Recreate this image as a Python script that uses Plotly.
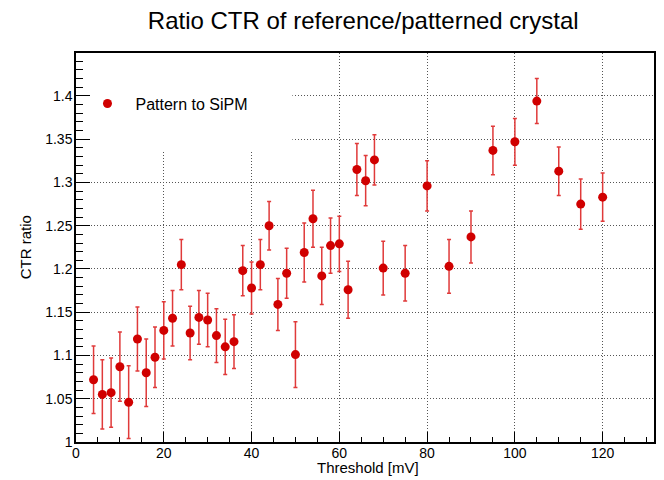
import plotly.graph_objects as go

# Data
threshold_mV = [4, 6, 8, 10, 12, 14, 16, 18, 20, 22, 24, 26, 28, 30, 32, 34, 36, 38, 40, 42,
                44, 46, 48, 50, 52, 54, 56, 58, 60, 62, 64, 66, 68, 70, 75, 80, 85, 90, 95,
                100, 105, 110, 115, 120]
ctr_ratio = [1.072, 1.055, 1.057, 1.087, 1.046, 1.119, 1.080, 1.098, 1.129, 1.143,
             1.205, 1.126, 1.144, 1.141, 1.123, 1.110, 1.116, 1.198, 1.178, 1.205,
             1.250, 1.159, 1.195, 1.101, 1.219, 1.258, 1.192, 1.227, 1.229, 1.176,
             1.315, 1.302, 1.326, 1.201, 1.195, 1.296, 1.203, 1.237, 1.337,
             1.347, 1.394, 1.313, 1.275, 1.283]
ctr_err = [0.039, 0.040, 0.040, 0.040, 0.042, 0.037, 0.039, 0.035, 0.033, 0.032,
           0.029, 0.031, 0.031, 0.031, 0.031, 0.032, 0.031, 0.029, 0.030, 0.029,
           0.028, 0.030, 0.029, 0.038, 0.034, 0.033, 0.033, 0.032, 0.032, 0.033,
           0.030, 0.029, 0.029, 0.031, 0.032, 0.029, 0.031, 0.030, 0.028,
           0.027, 0.026, 0.028, 0.029, 0.028]

series_name = "Pattern to SiPM"
title_text = "Ratio CTR of reference/patterned crystal"
x_title = "Threshold [mV]"
y_title = "CTR ratio"

FONT = "Liberation Sans, Arial, sans-serif"

# The page body has a default 8px margin, so the figure is offset by 8px.
FIG_W, FIG_H = 656, 472

fig = go.Figure()
fig.add_trace(go.Scatter(
    x=threshold_mV, y=ctr_ratio, mode="markers", name=series_name,
    marker=dict(color="#d00000", size=9, symbol="circle"),
    error_y=dict(type="data", array=ctr_err, visible=True,
                 color="#e03a3a", thickness=1.5, width=2),
))

# white legend area hiding the grid (as in the reference)
fig.add_shape(type="rect", xref="x", yref="y", x0=0, x1=49.3, y0=1.337, y1=1.4496,
              fillcolor="white", line=dict(width=0), layer="between")

grid = dict(showgrid=True, gridcolor="#555555", gridwidth=1, griddash="1px,2px")

fig.update_layout(
    width=FIG_W, height=FIG_H,
    margin=dict(l=67.5, r=FIG_W - 646.3, t=44.5, b=FIG_H - 433.7, autoexpand=False),
    paper_bgcolor="white", plot_bgcolor="white",
    font=dict(family=FONT, size=14, color="black"),
    title=dict(text=title_text, x=0.497, xref="paper", xanchor="center",
               y=1 - 13 / FIG_H, yref="container", yanchor="middle",
               font=dict(size=24, family=FONT, color="black")),
    showlegend=True,
    legend=dict(x=0.006, xref="paper", xanchor="left", y=0.87, yanchor="middle",
                bgcolor="rgba(0,0,0,0)", borderwidth=0, itemwidth=46,
                font=dict(size=16, family=FONT, color="black")),
    xaxis=dict(range=[0, 131.7], tick0=0, dtick=20, ticks="inside", ticklen=10,
               tickwidth=1, tickcolor="black", showline=True, linecolor="black",
               linewidth=1.5, mirror=True, zeroline=False, automargin=False,
               minor=dict(dtick=5, ticks="inside", ticklen=5, tickcolor="black",
                          showgrid=False),
               tickfont=dict(size=14), ticklabelstandoff=-3,
               **grid),
    yaxis=dict(range=[1, 1.4496], tick0=1, dtick=0.05, ticks="inside", ticklen=14,
               tickwidth=1, tickcolor="black", showline=True, linecolor="black",
               linewidth=1.5, mirror=True, zeroline=False, automargin=False,
               minor=dict(dtick=0.01, ticks="inside", ticklen=7, tickcolor="black",
                          showgrid=False),
               tickfont=dict(size=14), ticklabelstandoff=-1,
               **grid),
    annotations=[
        dict(text=x_title, xref="paper", x=0.505, yref="paper", y=-0.065,
             xanchor="center", yanchor="middle", showarrow=False,
             font=dict(size=15, family=FONT, color="black")),
        dict(text=y_title, xref="paper", x=-0.087, yref="paper", y=0.5,
             xanchor="center", yanchor="middle", showarrow=False, textangle=-90,
             font=dict(size=15, family=FONT, color="black")),
    ],
)

fig.write_html("out.html")
